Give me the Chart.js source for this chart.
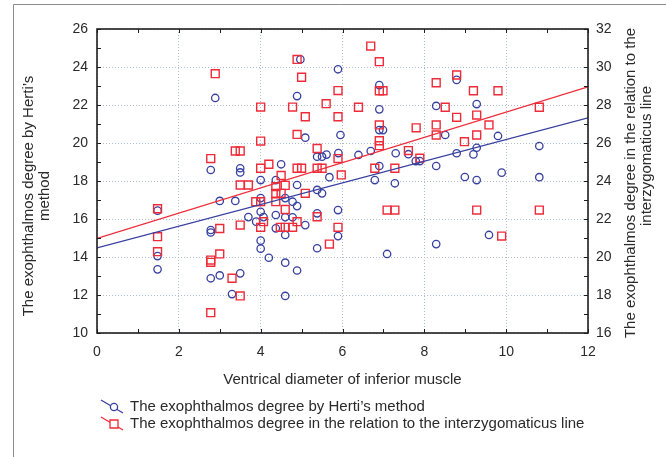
<!DOCTYPE html>
<html>
<head>
<meta charset="utf-8">
<script src="https://cdn.jsdelivr.net/npm/chart.js@4.4.0/dist/chart.umd.min.js"></script>
<style>
  html, body { margin: 0; padding: 0; background: #fff; }
  canvas { display: block; }
</style>
</head>
<body>
<canvas id="chart" width="666" height="457"></canvas>
<script>
// Hertel readings (left axis) against ventral diameter of the inferior muscle
const hertelX = [1.48, 1.48, 1.48, 2.89, 2.78, 2.78, 2.78, 2.78, 3.0, 3.0, 3.38, 3.3, 3.5, 3.5, 3.5, 3.7, 3.89,
  4.0, 4.0, 4.0, 4.0, 4.0, 4.07, 4.2, 4.37, 4.37, 4.37, 4.5, 4.6, 4.6, 4.6, 4.6, 4.6, 4.78, 4.78, 4.89, 4.89,
  4.89, 4.89, 4.97, 5.09, 5.09, 5.38, 5.5, 5.61, 5.38, 5.5, 5.38, 5.38, 5.68, 5.89, 5.95, 5.9, 5.89, 5.89,
  6.39, 6.69, 6.79, 6.9, 6.9, 6.9, 6.99, 6.9, 7.09, 7.28, 7.3, 7.61, 7.79, 7.89, 8.29, 8.29, 8.29, 8.51,
  8.79, 8.79, 8.99, 9.2, 9.28, 9.28, 9.28, 9.58, 9.8, 9.89, 10.81, 10.81];
const hertelY = [16.44, 14.05, 13.35, 22.37, 18.58, 15.42, 15.29, 12.88, 16.95, 13.03, 16.95, 12.05, 18.67, 18.45, 13.14, 16.1, 15.86,
  18.05, 17.1, 16.38, 14.86, 14.44, 16.1, 13.96, 18.05, 16.21, 15.51, 18.88, 17.1, 16.09, 15.16, 13.7, 11.95, 16.91, 16.09, 16.68, 13.29,
  17.79, 22.47, 24.4, 20.28, 15.68, 19.28, 19.28, 19.39, 17.53, 17.35, 16.3, 14.46, 18.2, 23.88, 20.42, 19.47, 16.47, 15.1,
  19.37, 19.58, 18.05, 23.05, 21.77, 20.68, 20.68, 18.79, 14.16, 17.88, 19.46, 19.41, 19.05, 19.05, 21.95, 18.79, 14.68, 20.42,
  23.32, 19.46, 18.21, 19.4, 22.05, 19.75, 18.05, 15.16, 20.37, 18.44, 19.84, 18.2];

// interzygomatic line readings (right axis)
const zygoX = [1.48, 1.48, 1.48, 2.89, 2.78, 2.78, 2.78, 2.78, 3.0, 3.0, 3.3, 3.38, 3.5, 3.5, 3.7, 3.5, 3.5, 3.88,
  4.0, 4.0, 4.0, 4.0, 4.0, 4.07, 4.2, 4.37, 4.37, 4.37, 4.5, 4.5, 4.48, 4.6, 4.6, 4.6, 4.78, 4.78, 4.89, 4.89,
  4.89, 4.89, 5.0, 5.0, 5.09, 5.09, 5.38, 5.38, 5.5, 5.38, 5.6, 5.68, 5.89, 5.89, 5.89, 5.89, 5.97, 6.39, 6.69,
  6.9, 6.9, 6.99, 6.9, 6.9, 6.9, 6.79, 7.09, 7.28, 7.28, 7.61, 7.8, 7.89, 8.29, 8.29, 8.29, 8.51, 8.79, 8.79,
  8.98, 9.2, 9.28, 9.28, 9.28, 9.58, 9.8, 9.89, 10.81, 10.81];
const zygoY = [22.54, 21.07, 20.28, 29.65, 25.18, 19.84, 19.72, 17.07, 21.5, 20.16, 18.88, 25.58, 25.58, 23.79, 23.79, 21.68, 17.95, 22.91,
  22.91, 27.89, 26.1, 24.67, 21.56, 21.86, 24.88, 23.7, 23.35, 22.91, 24.29, 23.35, 21.56, 23.77, 22.5, 21.56, 21.56, 27.89, 30.4, 26.45,
  24.67, 21.86, 29.46, 24.67, 27.38, 23.35, 25.71, 24.67, 24.67, 22.12, 28.07, 20.68, 28.76, 27.38, 25.18, 21.56, 24.32, 27.88, 31.1,
  30.28, 28.75, 28.75, 26.95, 26.12, 25.86, 24.67, 22.47, 22.47, 24.67, 25.6, 26.8, 25.2, 29.17, 26.95, 26.42, 27.88, 29.58, 27.35,
  26.07, 28.75, 27.47, 26.42, 22.47, 26.95, 28.75, 21.1, 27.88, 22.47];

// fitted lines, read at both ends of the x range
const fitX = [0, 12];
const hertelFit = [14.48, 21.32];
const zygoFit = [20.98, 28.96];

const xTicks = [0, 2, 4, 6, 8, 10, 12];
const leftTicks = [10, 12, 14, 16, 18, 20, 22, 24, 26];
const rightTicks = [16, 18, 20, 22, 24, 26, 28, 30, 32];

const xTitle = 'Ventrical diameter of inferior muscle';
const leftTitle = ['The exophthalmos degree by Herti\u2019s', 'method'];
const rightTitle = ['The exophthalmos degree in the relation to the', 'interzygomaticus line'];
const legendLabels = [
  'The exophthalmos degree by Herti\u2019s method',
  'The exophthalmos degree in the relation to the interzygomaticus line'
];

const FONT = '"Liberation Sans", Arial, sans-serif';
const BLUE = '#37409f';
const RED = '#ee2b38';
const TEXT = '#2a2a2a';
const GRID = '#aebbd0';

const pairs = (xs, ys) => xs.map((x, i) => ({ x, y: ys[i] }));

function tickList(values) {
  return (scale) => { scale.ticks = values.map((v) => ({ value: v })); };
}

const decorations = {
  id: 'decorations',
  beforeDraw(chart) {
    const { ctx } = chart;
    ctx.save();
    ctx.fillStyle = '#fff';
    ctx.fillRect(0, 0, chart.width, chart.height);
    ctx.restore();
  },
  afterDraw(chart) {
    const { ctx, chartArea: a, scales } = chart;
    ctx.save();

    // page frame
    ctx.strokeStyle = '#8c8c8c';
    ctx.lineWidth = 1;
    ctx.beginPath();
    ctx.moveTo(13.5, chart.height);
    ctx.lineTo(13.5, 4.5);
    ctx.lineTo(chart.width, 4.5);
    ctx.stroke();

    // plot box
    ctx.strokeStyle = '#1e1e1e';
    ctx.lineWidth = 1.6;
    ctx.strokeRect(a.left, a.top, a.right - a.left, a.bottom - a.top);

    // inner ticks
    ctx.lineWidth = 1;
    ctx.beginPath();
    for (let v = 0; v <= 12; v++) {
      const px = Math.round(scales.x.getPixelForValue(v)) + 0.5;
      ctx.moveTo(px, a.bottom); ctx.lineTo(px, a.bottom - 4);
      ctx.moveTo(px, a.top); ctx.lineTo(px, a.top + 4);
    }
    for (let v = 10; v <= 26; v++) {
      const py = Math.round(scales.y.getPixelForValue(v)) + 0.5;
      ctx.moveTo(a.left, py); ctx.lineTo(a.left + 4, py);
    }
    for (let v = 16; v <= 32; v++) {
      const py = Math.round(scales.y2.getPixelForValue(v)) + 0.5;
      ctx.moveTo(a.right, py); ctx.lineTo(a.right - 4, py);
    }
    ctx.stroke();

    // axis titles
    ctx.fillStyle = TEXT;
    ctx.font = '15px ' + FONT;
    ctx.textAlign = 'center';
    ctx.textBaseline = 'middle';
    ctx.fillText(xTitle, (a.left + a.right) / 2, 380);

    ctx.save();
    ctx.translate(29, 196);
    ctx.rotate(-Math.PI / 2);
    ctx.fillText(leftTitle[0], 0, 0);
    ctx.fillText(leftTitle[1], 0, 16);
    ctx.restore();

    ctx.save();
    ctx.translate(631, 183);
    ctx.rotate(-Math.PI / 2);
    ctx.fillText(rightTitle[0], 0, 0);
    ctx.fillText(rightTitle[1], 27, 16);
    ctx.restore();

    // legend
    const rows = [
      { y: 407, color: BLUE, mark: 'circle' },
      { y: 424, color: RED, mark: 'rect' }
    ];
    ctx.textAlign = 'left';
    rows.forEach((r, i) => {
      ctx.strokeStyle = r.color;
      ctx.lineWidth = 1.3;
      ctx.beginPath();
      ctx.moveTo(101, r.y - 7);
      ctx.lineTo(123, r.y + 6);
      ctx.stroke();
      ctx.fillStyle = '#fff';
      ctx.beginPath();
      if (r.mark === 'circle') {
        ctx.arc(114, r.y, 3.6, 0, Math.PI * 2);
      } else {
        ctx.rect(110, r.y - 4, 8, 8);
      }
      ctx.fill();
      ctx.stroke();
      ctx.fillStyle = TEXT;
      ctx.fillText(legendLabels[i], 130, r.y);
    });

    ctx.restore();
  }
};

new Chart(document.getElementById('chart'), {
  type: 'scatter',
  data: {
    datasets: [
      {
        label: legendLabels[0],
        data: pairs(hertelX, hertelY),
        yAxisID: 'y',
        pointStyle: 'circle',
        pointRadius: 3.7,
        borderWidth: 1.3,
        borderColor: BLUE,
        backgroundColor: 'rgba(0,0,0,0)',
        order: 2
      },
      {
        label: legendLabels[1],
        data: pairs(zygoX, zygoY),
        yAxisID: 'y2',
        pointStyle: 'rect',
        pointRadius: 5.6,
        borderWidth: 1.4,
        borderColor: RED,
        backgroundColor: 'rgba(0,0,0,0)',
        order: 1
      },
      {
        type: 'line',
        data: pairs(fitX, hertelFit),
        yAxisID: 'y',
        borderColor: BLUE,
        borderWidth: 1.3,
        pointRadius: 0,
        order: 0
      },
      {
        type: 'line',
        data: pairs(fitX, zygoFit),
        yAxisID: 'y2',
        borderColor: RED,
        borderWidth: 1.3,
        pointRadius: 0,
        order: 0
      }
    ]
  },
  options: {
    responsive: false,
    devicePixelRatio: 1,
    animation: false,
    layout: { padding: { top: 29, left: 0, right: 0, bottom: 0 } },
    plugins: { legend: { display: false }, tooltip: { enabled: false } },
    scales: {
      x: {
        type: 'linear',
        position: 'bottom',
        min: 0,
        max: 12,
        afterBuildTicks: tickList(xTicks),
        ticks: { color: TEXT, font: { family: FONT, size: 14 }, padding: 11, maxRotation: 0 },
        grid: { color: GRID, lineWidth: 1, drawTicks: false },
        border: { display: false, dash: [1, 2] },
        afterFit(s) { s.height = 124; }
      },
      y: {
        position: 'left',
        min: 10,
        max: 26,
        afterBuildTicks: tickList(leftTicks),
        ticks: { color: TEXT, font: { family: FONT, size: 14 }, padding: 9 },
        grid: { color: GRID, lineWidth: 1, drawTicks: false },
        border: { display: false, dash: [1, 2] },
        afterFit(s) { s.width = 97; }
      },
      y2: {
        position: 'right',
        min: 16,
        max: 32,
        afterBuildTicks: tickList(rightTicks),
        ticks: { color: TEXT, font: { family: FONT, size: 14 }, padding: 8 },
        grid: { display: false, drawTicks: false },
        border: { display: false },
        afterFit(s) { s.width = 78; }
      }
    }
  },
  plugins: [decorations]
});
</script>
</body>
</html>
